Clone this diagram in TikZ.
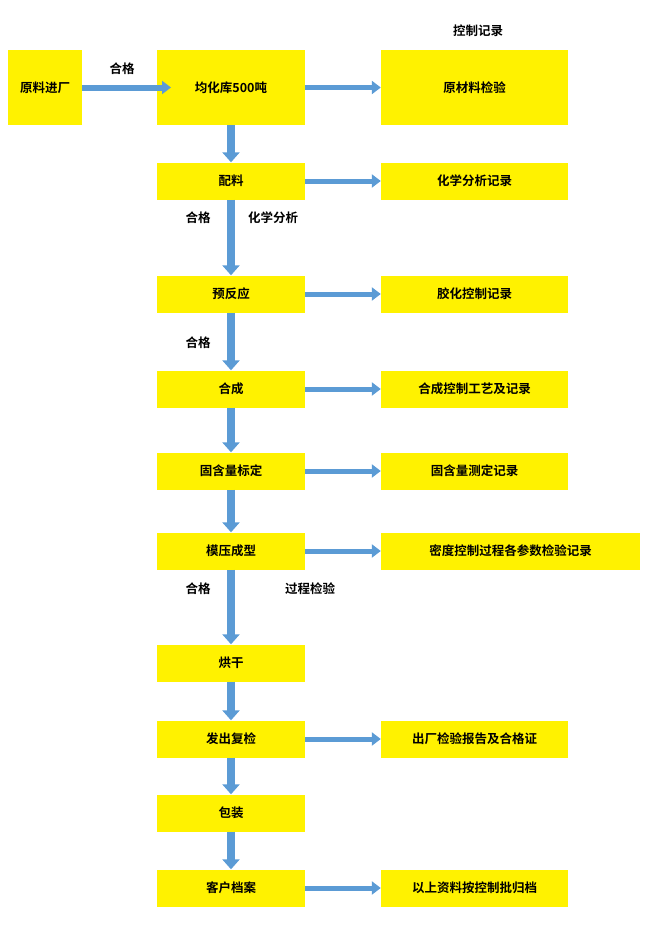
\documentclass[tikz,border=0pt]{standalone}
\usepackage{fontspec}
\setmainfont{Noto Sans CJK SC}[BoldFont={Noto Sans CJK SC Bold}]
\usetikzlibrary{arrows.meta}
\definecolor{arrblue}{RGB}{91,155,213}
\begin{document}
\begin{tikzpicture}[x=1pt,y=-1pt,
  box/.style={fill=yellow,draw=none,minimum height=37pt,inner sep=0pt,font=\bfseries\fontsize{12.5}{14}\selectfont},
  lbl/.style={font=\bfseries\fontsize{12.5}{14}\selectfont,inner sep=0pt},
  arr/.style={line width=5pt,draw=arrblue,-{Triangle[length=9pt,width=13pt]}},
  varr/.style={line width=8pt,draw=arrblue,-{Triangle[length=10pt,width=17pt]}}]
\useasboundingbox (0,0) rectangle (650,926);
\node[box,minimum width=74pt,minimum height=75pt] (raw) at (45,87.5) {原料进厂};
\node[box,minimum width=148pt,minimum height=75pt] (jh) at (231,87.5) {均化库500吨};
\node[box,minimum width=187pt,minimum height=75pt] (yc) at (474.5,87.5) {原材料检验};
\node[lbl] (kz) at (478,31) {控制记录};
\foreach \n/\t/\y in {pl/配料/181, yf/预反应/294, hc/合成/389, gh/固含量标定/471, mc/模压成型/551, hg/烘干/663, fc/发出复检/739, bz/包装/813, kh/客户档案/888}
  \node[box,minimum width=148pt] (\n) at (231,\y) {\t};
\foreach \n/\t/\y in {rpl/化学分析记录/181, ryf/胶化控制记录/294, rhc/合成控制工艺及记录/389, rgh/固含量测定记录/471, rfc/出厂检验报告及合格证/739, rkh/以上资料按控制批归档/888}
  \node[box,minimum width=187pt] (\n) at (474.5,\y) {\t};
\node[box,minimum width=259pt] (rmc) at (510.5,551) {密度控制过程各参数检验记录};
\draw[arr,line width=6pt] (raw.east) -- (171,87.5);
\draw[arr] (jh.east) -- (yc.west);
\foreach \a/\b in {pl/rpl, yf/ryf, hc/rhc, gh/rgh, mc/rmc, fc/rfc, kh/rkh}
  \draw[arr] (\a.east) -- (\b.west);
\foreach \a/\b in {jh/pl, pl/yf, yf/hc, hc/gh, gh/mc, mc/hg, hg/fc, fc/bz, bz/kh}
  \draw[varr] (\a.south) -- (\b.north);
\node[lbl] (q1) at (122,69) {合格};
\node[lbl] (q2) at (198,218) {合格};
\node[lbl] (c1) at (273,218) {化学分析};
\node[lbl] (q3) at (198,343) {合格};
\node[lbl] (q4) at (198,589) {合格};
\node[lbl] (c2) at (310,589) {过程检验};
\end{tikzpicture}
\end{document}
